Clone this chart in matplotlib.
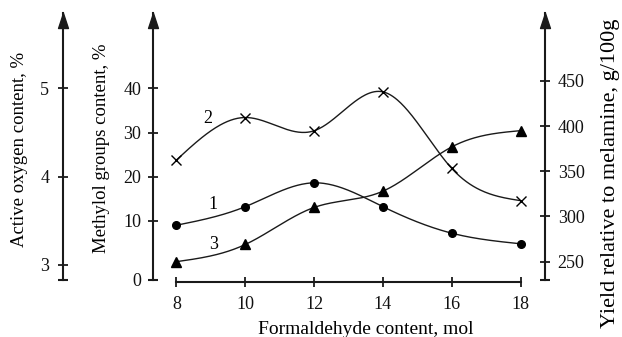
import numpy as np
import matplotlib
matplotlib.use("Agg")
import matplotlib.pyplot as plt
from matplotlib.path import Path

plt.rcParams['font.family'] = ['Liberation Serif', 'DejaVu Serif']

# ---- data ----
formaldehyde = [8, 10, 12, 14, 16, 18]
active_oxygen = [3.45, 3.66, 3.93, 3.66, 3.36, 3.24]        # curve 1
methylol = [23.8, 33.4, 30.4, 39.2, 21.9, 14.6]             # curve 2
yield_mel = [250, 269, 310, 328, 377, 395]                  # curve 3

x_ticks = [8, 10, 12, 14, 16, 18]
oxy_ticks = [3, 4, 5]
meth_ticks = [0, 10, 20, 30, 40]
yield_ticks = [250, 300, 350, 400, 450]

LINE = '#1a1a1a'
FS_TICK = 13
FS_LAB = 13.5


def natural_spline(x, y, n=300):
    x = np.asarray(x, float)
    y = np.asarray(y, float)
    m = len(x)
    h = np.diff(x)
    A = np.zeros((m, m))
    b = np.zeros(m)
    A[0, 0] = 1
    A[-1, -1] = 1
    for i in range(1, m - 1):
        A[i, i - 1] = h[i - 1]
        A[i, i] = 2 * (h[i - 1] + h[i])
        A[i, i + 1] = h[i]
        b[i] = 6 * ((y[i + 1] - y[i]) / h[i] - (y[i] - y[i - 1]) / h[i - 1])
    M = np.linalg.solve(A, b)
    xs = np.linspace(x[0], x[-1], n)
    ys = np.empty_like(xs)
    for k, xv in enumerate(xs):
        i = min(np.searchsorted(x, xv, side='right') - 1, m - 2)
        t1 = x[i + 1] - xv
        t0 = xv - x[i]
        ys[k] = (M[i] * t1 ** 3 / (6 * h[i]) + M[i + 1] * t0 ** 3 / (6 * h[i])
                 + (y[i] / h[i] - M[i] * h[i] / 6) * t1
                 + (y[i + 1] / h[i] - M[i + 1] * h[i] / 6) * t0)
    return xs, ys


W, H = 622, 337
fig = plt.figure(figsize=(W / 100, H / 100), dpi=100)

ax_left_px, ax_right_px = 153.3, 545.0
ax_bot_px, ax_top_px = 280.0, 13.3
pos = [ax_left_px / W, (H - ax_bot_px) / H,
       (ax_right_px - ax_left_px) / W, (ax_bot_px - ax_top_px) / H]

ax = fig.add_axes(pos)          # methylol axis (middle)
ax_oxy = ax.twinx()             # active oxygen (far left)
ax_yld = ax.twinx()             # yield (right)
for a in (ax, ax_oxy, ax_yld):
    a.set_facecolor('none')
    a.set_xlim(7.326, 18.712)

# methylol scale: broken segment between 0 and 10
k = 1.334


def fwd(v):
    v = np.asarray(v, float)
    return np.where(v >= 10, v, 10 - (10 - v) * k)


def inv(u):
    u = np.asarray(u, float)
    return np.where(u >= 10, u, 10 - (10 - u) / k)


ax.set_yscale('function', functions=(fwd, inv))
ax.set_ylim(0, 56.96)
ax_oxy.set_ylim(2.830, 5.849)
ax_yld.set_ylim(229.7, 524.9)

lw_axis = 1.5
tick_kw = dict(direction='inout', length=7.2, width=1.3, color=LINE,
               labelsize=FS_TICK, labelcolor='#111111')

# methylol axis
for s in ('top', 'right'):
    ax.spines[s].set_visible(False)
ax.spines['left'].set_linewidth(lw_axis)
ax.spines['left'].set_color(LINE)
ax.spines['bottom'].set_bounds(8, 18)
ax.spines['bottom'].set_linewidth(lw_axis)
ax.spines['bottom'].set_color(LINE)
ax.spines['bottom'].set_position(('outward', 1.2))
ax.set_yticks(meth_ticks)
ax.set_yticklabels([str(t) for t in meth_ticks])
ax.yaxis.set_minor_locator(matplotlib.ticker.NullLocator())
ax.tick_params(axis='y', pad=5, **tick_kw)
ax.set_xticks(x_ticks)
ax.set_xticklabels([str(t) for t in x_ticks])
ax.tick_params(axis='x', pad=7, **tick_kw)

# oxygen axis
for s in ('top', 'right', 'bottom'):
    ax_oxy.spines[s].set_visible(False)
ax_oxy.spines['left'].set_visible(True)
ax_oxy.spines['left'].set_position(('axes', (63.3 - ax_left_px) / (ax_right_px - ax_left_px)))
ax_oxy.spines['left'].set_linewidth(lw_axis)
ax_oxy.spines['left'].set_color(LINE)
ax_oxy.yaxis.set_ticks_position('left')
ax_oxy.yaxis.set_label_position('left')
ax_oxy.set_yticks(oxy_ticks)
ax_oxy.set_yticklabels([str(t) for t in oxy_ticks])
ax_oxy.tick_params(axis='y', pad=6.5, **tick_kw)

# yield axis
for s in ('top', 'left', 'bottom'):
    ax_yld.spines[s].set_visible(False)
ax_yld.spines['right'].set_linewidth(lw_axis)
ax_yld.spines['right'].set_color(LINE)
ax_yld.set_yticks(yield_ticks)
ax_yld.set_yticklabels([str(t) for t in yield_ticks])
ax_yld.tick_params(axis='y', pad=5.5, **tick_kw)

# arrowheads and bottom caps of the vertical axes
arrow = Path([(-0.33, -1.0), (0.33, -1.0), (0.0, 0.0), (-0.33, -1.0)],
             [Path.MOVETO, Path.LINETO, Path.LINETO, Path.CLOSEPOLY])
for xf in ((63.3 - ax_left_px) / (ax_right_px - ax_left_px), 0.0, 1.0):
    ax.plot([xf], [1.0], marker=arrow, markersize=21.6, color=LINE,
            transform=ax.transAxes, clip_on=False, zorder=5)
    ax.plot([xf], [0.0], marker='_', markersize=7, markeredgewidth=1.5,
            color=LINE, transform=ax.transAxes, clip_on=False, zorder=5)

# curves
xs, ys = natural_spline(formaldehyde, active_oxygen)
ax_oxy.plot(xs, ys, color=LINE, lw=1.0)
ax_oxy.plot(formaldehyde, active_oxygen, 'o', color='black', markersize=5.5)

xs, ys = natural_spline(formaldehyde, methylol)
ax.plot(xs, ys, color=LINE, lw=1.0)
ax.plot(formaldehyde, methylol, 'x', color='black', markersize=6.5,
        markeredgewidth=1.0)

xs, ys = natural_spline(formaldehyde, yield_mel)
ax_yld.plot(xs, ys, color=LINE, lw=1.0)
ax_yld.plot(formaldehyde, yield_mel, '^', color='black', markersize=6.5)

# curve numbers
ax.text(8.92, 33.1, '2', fontsize=13, ha='center', va='center')
ax_oxy.text(9.06, 3.68, '1', fontsize=13, ha='center', va='center')
ax_yld.text(9.09, 268.5, '3', fontsize=13, ha='center', va='center')

# axis titles
fig.text(20 / W, 1 - 149 / H, 'Active oxygen content, %', rotation=90,
         ha='center', va='center', fontsize=FS_LAB)
fig.text(102 / W, 1 - 148 / H, 'Methylol groups content, %', rotation=90,
         ha='center', va='center', fontsize=FS_LAB)
fig.text(611 / W, 1 - 173 / H, 'Yield relative to melamine, g/100g', rotation=90,
         ha='center', va='center', fontsize=16)
fig.text(366 / W, 1 - 329 / H, 'Formaldehyde content, mol',
         ha='center', va='center', fontsize=14)

fig.savefig('out.png', dpi=100)
